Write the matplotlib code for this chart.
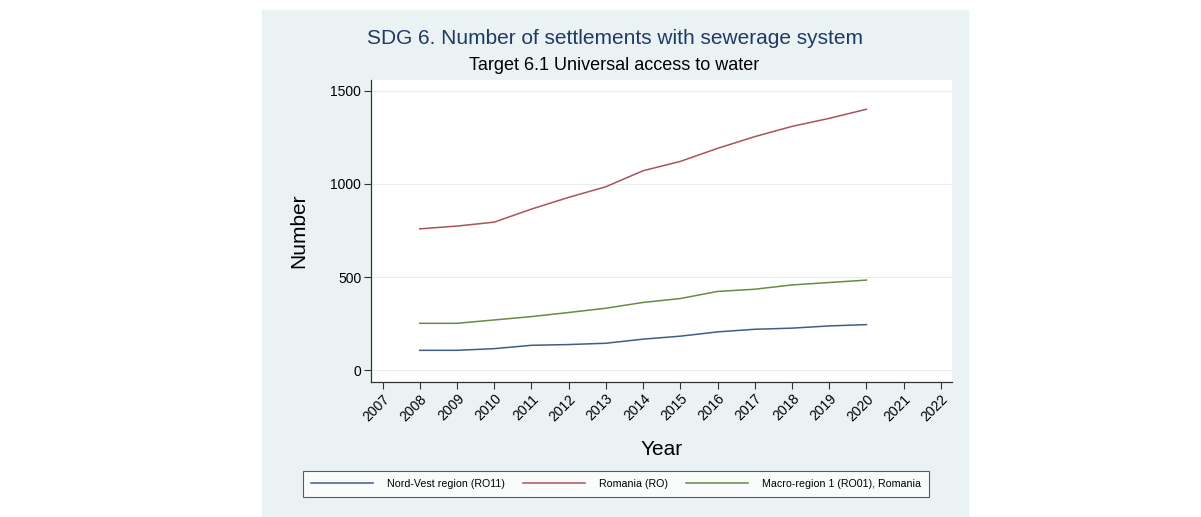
import matplotlib
matplotlib.use("Agg")
import matplotlib.pyplot as plt
from matplotlib.patches import Rectangle

years = list(range(2008, 2021))
nord_vest = [107, 107, 116, 134, 138, 145, 167, 183, 206, 220, 226, 238, 245]
romania = [759, 774, 795, 865, 928, 985, 1071, 1121, 1191, 1254, 1309, 1352, 1401]
macro1 = [252, 252, 270, 288, 310, 333, 364, 385, 423, 435, 458, 471, 484]
tick_years = list(range(2007, 2023))
y_ticks = [0, 500, 1000, 1500]

BG = "#eaf2f3"
plt.rcParams["font.family"] = ["Liberation Sans", "DejaVu Sans"]

fig = plt.figure(figsize=(12.01, 5.17), dpi=100)
fig.patches.append(Rectangle((262 / 1201, 0), (968 - 262) / 1201, 507 / 517,
                             transform=fig.transFigure, color=BG, zorder=-10))

ax = fig.add_axes([371 / 1201, 135 / 517, 581 / 1201, 302 / 517])
ax.set_facecolor("white")
ax.plot(years, nord_vest, color="#3e5f86", lw=1.1, label="Nord-Vest region (RO11)")
ax.plot(years, romania, color="#a8545a", lw=1.1, label="Romania (RO)")
ax.plot(years, macro1, color="#6a8a45", lw=1.1, label="Macro-region 1 (RO01), Romania")

ax.set_xlim(2006.69, 2022.3)
ax.set_ylim(-63, 1558)
ax.set_xticks(tick_years)
ax.set_xticklabels([str(y) for y in tick_years], rotation=45, ha="right",
                   rotation_mode="anchor", fontsize=10)
ax.set_yticks(y_ticks)
ax.set_yticklabels([str(v) for v in y_ticks], fontsize=10)
ax.yaxis.grid(True, color="#e4eef0", lw=0.8)
ax.set_axisbelow(True)
for side in ("top", "right"):
    ax.spines[side].set_visible(False)
for side in ("left", "bottom"):
    ax.spines[side].set_color("#333333")
    ax.spines[side].set_linewidth(0.9)
ax.tick_params(axis="both", direction="out", length=5, width=0.8, color="#333333", pad=2)

ax.set_xlabel("Year", fontsize=15, labelpad=12)
ax.set_ylabel("Number", fontsize=15, labelpad=16)

fig.text(615 / 1201, 1 - 38 / 517, "SDG 6. Number of settlements with sewerage system",
         ha="center", va="center", fontsize=15, color="#1f3a64")
fig.text(614 / 1201, 1 - 65 / 517, "Target 6.1 Universal access to water",
         ha="center", va="center", fontsize=13, color="black")

leg = fig.legend(loc="center", bbox_to_anchor=(616 / 1201, 1 - 484 / 517), ncol=3,
                 fontsize=7.7, frameon=True, fancybox=False, edgecolor="#333333",
                 handlelength=5.8, handletextpad=1.3, columnspacing=1.7,
                 borderpad=0.75, borderaxespad=0)
leg.get_frame().set_linewidth(0.8)

fig.savefig("out.png", dpi=100, facecolor="white")
